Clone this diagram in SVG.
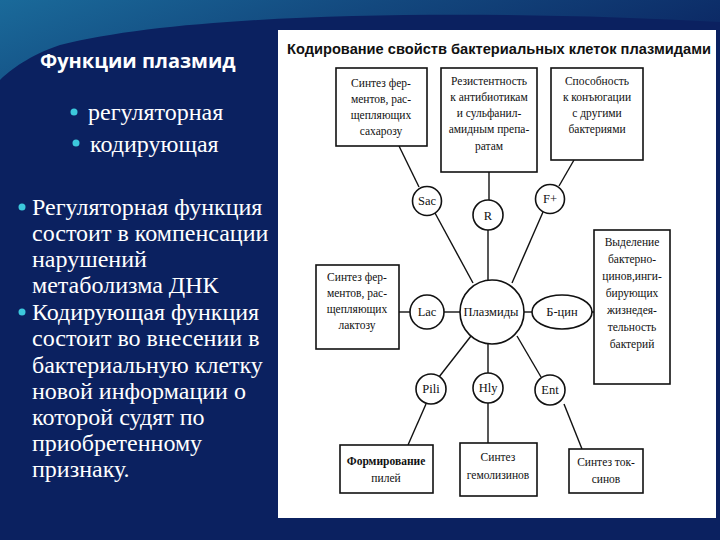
<svg xmlns="http://www.w3.org/2000/svg" width="720" height="540" viewBox="0 0 720 540">
<defs>
<linearGradient id="sky" x1="0" y1="0" x2="1" y2="0.3">
<stop offset="0" stop-color="#1a6a9a"/><stop offset="0.5" stop-color="#13487e"/><stop offset="1" stop-color="#0c2a66"/>
</linearGradient>
<style>
.bg{fill:#0b2160}
.lt{font-family:'Liberation Serif','Times New Roman',serif;font-size:24px;fill:#fff}
.dot{fill:#3cc8dc}
.bx{fill:#fff;stroke:#111;stroke-width:1.6}
.c{fill:#fff;stroke:#111;stroke-width:1.6}
.ln{stroke:#111;stroke-width:1.4;fill:none}
.t{font-family:'Liberation Serif',serif;font-size:11.5px;fill:#111;text-anchor:middle}
.tc{font-family:'Liberation Serif',serif;font-size:12.5px;fill:#111;text-anchor:middle}
</style>
</defs>
<rect class="bg" width="720" height="540"/>
<path d="M0 0H720V22C500 10 200 10 60 45C30 55 10 70 0 80Z" fill="url(#sky)"/>
<g id="left">
<text x="40" y="68" font-family="'Open Sans','DejaVu Sans',sans-serif" font-weight="bold" font-size="20" fill="#fff">Функции плазмид</text>
<circle class="dot" cx="74" cy="112" r="3.5"/><text class="lt" x="88" y="120" font-size="22">регуляторная</text>
<circle class="dot" cx="76" cy="143" r="3.5"/><text class="lt" x="90" y="152" font-size="22">кодирующая</text>
<circle class="dot" cx="22" cy="207" r="3.5"/>
<text class="lt" x="32" y="215">Регуляторная функция</text>
<text class="lt" x="32" y="241">состоит в компенсации</text>
<text class="lt" x="32" y="267">нарушений</text>
<text class="lt" x="32" y="293">метаболизма ДНК</text>
<circle class="dot" cx="22" cy="312" r="3.5"/>
<text class="lt" x="32" y="320">Кодирующая функция</text>
<text class="lt" x="32" y="346">состоит во внесении в</text>
<text class="lt" x="32" y="373">бактериальную клетку</text>
<text class="lt" x="32" y="399">новой информации о</text>
<text class="lt" x="32" y="425">которой судят по</text>
<text class="lt" x="32" y="451">приобретенному</text>
<text class="lt" x="32" y="477">признаку.</text>
</g>
<rect x="278" y="30" width="438" height="488" fill="#fff"/>
<text x="499" y="54" font-family="'Liberation Sans',Arial,sans-serif" font-weight="bold" font-size="14" fill="#111" text-anchor="middle" textLength="424" lengthAdjust="spacingAndGlyphs">Кодирование свойств бактериальных клеток плазмидами</text>
<g id="connectors">
<line class="ln" x1="399" y1="146" x2="419" y2="187"/>
<line class="ln" x1="489" y1="172" x2="489" y2="200"/>
<line class="ln" x1="574" y1="160" x2="559" y2="186"/>
<line class="ln" x1="435" y1="213" x2="473" y2="283"/>
<line class="ln" x1="488" y1="230" x2="488" y2="280"/>
<line class="ln" x1="543" y1="212" x2="512" y2="283"/>
<line class="ln" x1="399" y1="312" x2="410" y2="312"/>
<line class="ln" x1="444" y1="312" x2="460" y2="312"/>
<line class="ln" x1="524" y1="312" x2="532" y2="312"/>
<line class="ln" x1="592" y1="312" x2="594" y2="312"/>
<line class="ln" x1="471" y1="336" x2="439" y2="377"/>
<line class="ln" x1="488" y1="344" x2="488" y2="373"/>
<line class="ln" x1="517" y1="336" x2="541" y2="377"/>
<line class="ln" x1="426" y1="404" x2="408" y2="445"/>
<line class="ln" x1="488" y1="403" x2="488" y2="443"/>
<line class="ln" x1="564" y1="404" x2="582" y2="449"/>
</g>
<g id="box-sac"><rect class="bx" x="336" y="68" width="91" height="78"/>
<text class="t" x="381" y="87">Синтез фер-</text><text class="t" x="381" y="103">ментов, рас-</text><text class="t" x="381" y="119">щепляющих</text><text class="t" x="381" y="135">сахарозу</text></g>
<g id="box-r"><rect class="bx" x="441" y="68" width="96" height="104"/>
<text class="t" x="489" y="85">Резистентность</text><text class="t" x="489" y="101">к антибиотикам</text><text class="t" x="489" y="117">и сульфанил-</text><text class="t" x="489" y="133">амидным препа-</text><text class="t" x="489" y="150">ратам</text></g>
<g id="box-f"><rect class="bx" x="551" y="68" width="92" height="92"/>
<text class="t" x="597" y="85">Способность</text><text class="t" x="597" y="101">к конъюгации</text><text class="t" x="597" y="117">с другими</text><text class="t" x="597" y="133">бактериями</text></g>
<g id="sac"><circle class="c" cx="427" cy="201" r="14.5"/><text class="tc" x="427" y="205">Sac</text></g>
<g id="r"><circle class="c" cx="488" cy="215" r="15"/><text class="tc" x="488" y="220">R</text></g>
<g id="fplus"><circle class="c" cx="550" cy="199" r="14.5"/><text class="tc" x="550" y="203">F+</text></g>
<g id="box-lac"><rect class="bx" x="316" y="265" width="83" height="84"/>
<text class="t" x="357" y="281">Синтез фер-</text><text class="t" x="357" y="297">ментов, рас-</text><text class="t" x="357" y="313">щепляющих</text><text class="t" x="357" y="329">лактозу</text></g>
<g id="lac"><circle class="c" cx="427" cy="312" r="17"/><text class="tc" x="427" y="316">Lac</text></g>
<g id="plasmids"><circle class="c" cx="492" cy="312" r="32"/><text class="tc" x="491" y="316">Плазмиды</text></g>
<g id="bcin"><ellipse class="c" cx="562" cy="312" rx="30" ry="17"/><text class="tc" x="562" y="316">Б-цин</text></g>
<g id="box-b"><rect class="bx" x="594" y="230" width="76" height="154"/>
<text class="t" x="632" y="246">Выделение</text><text class="t" x="632" y="263">бактерно-</text><text class="t" x="632" y="280">цинов,инги-</text><text class="t" x="632" y="297">бирующих</text><text class="t" x="632" y="314">жизнедея-</text><text class="t" x="632" y="331">тельность</text><text class="t" x="632" y="348">бактерий</text></g>
<g id="pili"><circle class="c" cx="431" cy="389" r="15"/><text class="tc" x="431" y="393">Pili</text></g>
<g id="hly"><circle class="c" cx="488" cy="388" r="15"/><text class="tc" x="488" y="392">Hly</text></g>
<g id="ent"><circle class="c" cx="550" cy="390" r="15"/><text class="tc" x="550" y="394">Ent</text></g>
<g id="box-pili"><rect class="bx" x="340" y="445" width="93" height="48"/>
<text class="t" x="386" y="465" font-weight="bold">Формирование</text><text class="t" x="386" y="482">пилей</text></g>
<g id="box-hly"><rect class="bx" x="460" y="443" width="77" height="53"/>
<text class="t" x="498" y="461">Синтез</text><text class="t" x="498" y="479">гемолизинов</text></g>
<g id="box-ent"><rect class="bx" x="569" y="449" width="74" height="44"/>
<text class="t" x="606" y="466">Синтез ток-</text><text class="t" x="606" y="483">синов</text></g>
</svg>
